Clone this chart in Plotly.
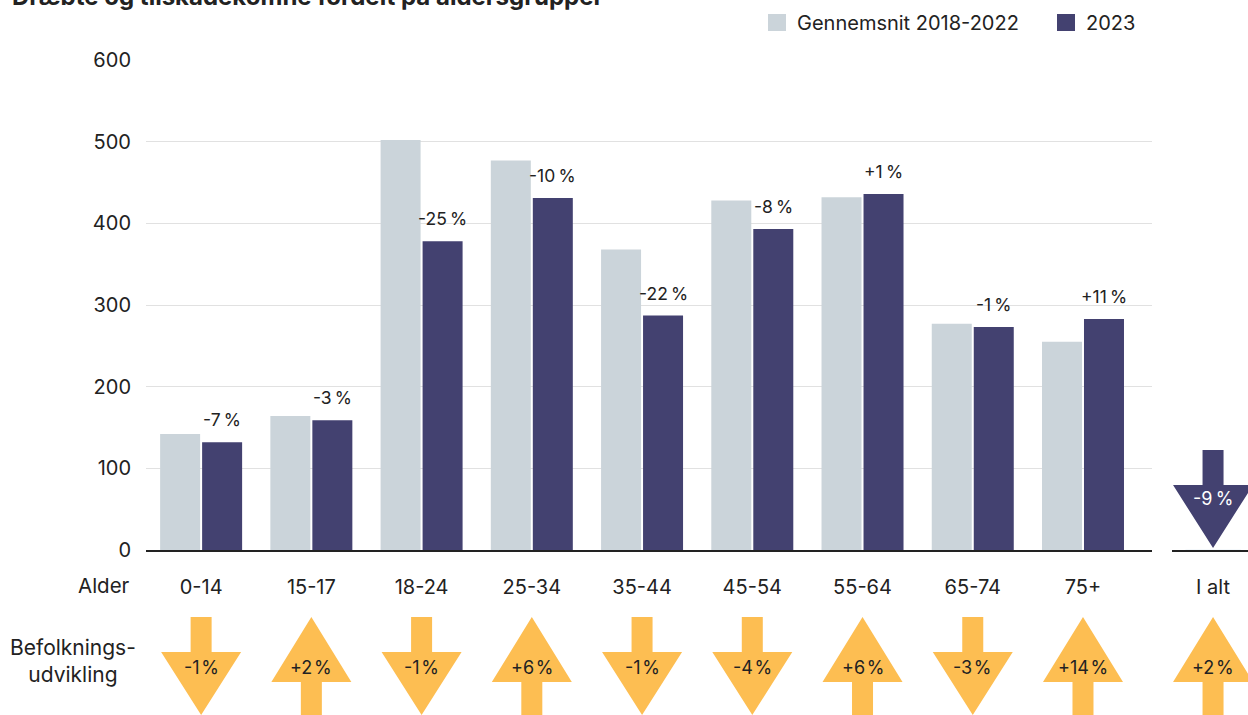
import plotly.graph_objects as go

# ---------------- data ----------------
categories = ["0-14", "15-17", "18-24", "25-34", "35-44", "45-54", "55-64", "65-74", "75+"]
avg_2018_2022 = [142, 164, 502, 477, 368, 428, 432, 277, 255]
values_2023 = [132, 159, 378, 431, 287, 393, 436, 273, 283]
change_labels = ["-7 %", "-3 %", "-25 %", "-10 %", "-22 %", "-8 %", "+1 %", "-1 %", "+11 %"]
population_change = ["-1%", "+2%", "-1%", "+6%", "-1%", "-4%", "+6%", "-3%", "+14%"]
total_label = "I alt"
total_change = "-9 %"
total_population_change = "+2%"
y_ticks = [0, 100, 200, 300, 400, 500, 600]

title_text = "Dræbte og tilskadekomne fordelt på aldersgrupper"
legend_names = ["Gennemsnit 2018-2022", "2023"]

# ---------------- style ----------------
FONT = "Inter"
GREY = "#CBD4DA"
DARK = "#434170"
ORANGE = "#FDBE52"
TXT = "#222222"

W, H = 1248, 715
ML, MR, MT, MB = 146, 0, 60, 165
PW = W - ML - MR
PH = H - MT - MB


def px2x(px):
    return (px - ML) / PW


def py2y(py):
    return (H - MB - py) / PH


fig = go.Figure()
fig.add_trace(go.Bar(x=categories, y=avg_2018_2022, name=legend_names[0],
                     marker=dict(color=GREY, line=dict(width=0)),
                     xaxis="x", yaxis="y", hoverinfo="x+y"))
fig.add_trace(go.Bar(x=categories, y=values_2023, name=legend_names[1],
                     marker=dict(color=DARK, line=dict(width=0)),
                     xaxis="x", yaxis="y", hoverinfo="x+y"))
# invisible trace for the total subplot so its axis is drawn
fig.add_trace(go.Bar(x=[total_label], y=[0], marker=dict(color=DARK),
                     xaxis="x2", yaxis="y2", hoverinfo="skip"))

annotations = []
shapes = []

# labels above 2023 bars
for c, v, lab in zip(categories, values_2023, change_labels):
    annotations.append(dict(x=c, y=v, xref="x", yref="y", text=lab.replace(" ", "\u2009"),
                            showarrow=False, xshift=21, yshift=10,
                            xanchor="center", yanchor="bottom",
                            font=dict(family=FONT, size=17.5, color=TXT)))

# population arrows
down_path = "M-10.5,0 L10.5,0 L10.5,-35 L40,-35 L0,-98 L-40,-35 L-10.5,-35 Z"
up_path = "M0,0 L40,-65 L10.5,-65 L10.5,-98 L-10.5,-98 L-10.5,-65 L-40,-65 Z"
arrow_top = py2y(617)
arrow_text_y = py2y(667)
for i, p in enumerate(population_change):
    shapes.append(dict(type="path", xref="x", yref="paper", xsizemode="pixel", ysizemode="pixel",
                       xanchor=i, yanchor=arrow_top,
                       path=up_path if p.startswith("+") else down_path,
                       fillcolor=ORANGE, line=dict(width=0), layer="above"))
    annotations.append(dict(x=i, y=arrow_text_y, xref="x", yref="paper", text=p.replace("%", "\u200a%"),
                            xanchor="center", yanchor="middle",
                            showarrow=False, font=dict(family=FONT, size=18, color=TXT)))

# total population arrow
shapes.append(dict(type="path", xref="x2", yref="paper", xsizemode="pixel", ysizemode="pixel",
                   xanchor=0, yanchor=arrow_top,
                   path=up_path if total_population_change.startswith("+") else down_path,
                   fillcolor=ORANGE, line=dict(width=0), layer="above"))
annotations.append(dict(x=0, y=arrow_text_y, xref="x2", yref="paper",
                        text=total_population_change.replace("%", "\u200a%"),
                        xanchor="center", yanchor="middle",
                        showarrow=False, font=dict(family=FONT, size=18, color=TXT)))

# total change arrow (dark)
shapes.append(dict(type="path", xref="x2", yref="paper", xsizemode="pixel", ysizemode="pixel",
                   xanchor=0, yanchor=py2y(450),
                   path=up_path if total_change.startswith("+") else down_path,
                   fillcolor=DARK, line=dict(width=0), layer="above"))
annotations.append(dict(x=0, y=py2y(498), xref="x2", yref="paper",
                        text=total_change.replace(" ", "\u2009"),
                        xanchor="center", yanchor="middle",
                        showarrow=False, font=dict(family=FONT, size=18, color="white")))

# row labels
annotations.append(dict(x=0, y=py2y(585), xref="paper", yref="paper", text="Alder",
                        xanchor="right", yanchor="middle", xshift=-14, showarrow=False,
                        font=dict(family=FONT, size=20.5, color=TXT)))
annotations.append(dict(x=px2x(73), y=py2y(661), xref="paper", yref="paper",
                        text="Befolknings-<br>udvikling", align="center",
                        xanchor="center", yanchor="middle",
                        showarrow=False, font=dict(family=FONT, size=21, color=TXT)))

# title (partly cut at top edge as in the reference)
annotations.append(dict(x=px2x(10), y=py2y(13), xref="paper", yref="paper", text="<b>" + title_text + "</b>",
                        xanchor="left", yanchor="bottom", showarrow=False,
                        font=dict(family=FONT, size=24, color=TXT)))

# custom legend
leg = [(768, GREY, legend_names[0]), (1057, DARK, legend_names[1])]
for x0, col, name in leg:
    shapes.append(dict(type="rect", xref="paper", yref="paper",
                       x0=px2x(x0), x1=px2x(x0 + 18), y0=py2y(31), y1=py2y(14),
                       fillcolor=col, line=dict(width=0)))
    annotations.append(dict(x=px2x(x0 + 27), y=py2y(23), xref="paper", yref="paper", text=name,
                            xanchor="left", yanchor="middle", showarrow=False,
                            font=dict(family=FONT, size=20, color=TXT)))

fig.update_layout(
    width=W, height=H,
    margin=dict(l=ML, r=MR, t=MT, b=MB, pad=0),
    paper_bgcolor="white", plot_bgcolor="white",
    barmode="group", bargap=0.238, bargroupgap=0.0476,
    showlegend=False,
    font=dict(family=FONT, size=18, color=TXT),
    xaxis=dict(domain=[0, px2x(1152)], type="category", categoryorder="array", categoryarray=categories,
               range=[-0.5, 8.626], showline=True, linecolor="#222222", linewidth=1.5,
               showgrid=False, ticks="", ticklabelstandoff=18, anchor="y",
               tickfont=dict(family=FONT, size=20, color=TXT), fixedrange=True),
    yaxis=dict(domain=[0, 1], range=[0, 600], tickvals=y_ticks, showgrid=True,
               gridcolor="#E1E1E1", gridwidth=1, zeroline=False, showline=False,
               ticks="", ticklabelstandoff=14, anchor="x",
               tickfont=dict(family=FONT, size=20, color=TXT), fixedrange=True),
    xaxis2=dict(domain=[px2x(1172), 1], type="category", range=[-0.54, 0.46],
                showline=True, linecolor="#222222", linewidth=1.5, showgrid=False,
                ticks="", ticklabelstandoff=18, anchor="y2",
                tickfont=dict(family=FONT, size=20, color=TXT), fixedrange=True),
    yaxis2=dict(domain=[0, 1], range=[0, 600], visible=False, anchor="x2", fixedrange=True),
    annotations=annotations,
    shapes=shapes,
)

fig.write_html("out.html", config={"displayModeBar": False},
               post_script="document.body.style.margin='0';document.body.style.overflow='hidden';")
